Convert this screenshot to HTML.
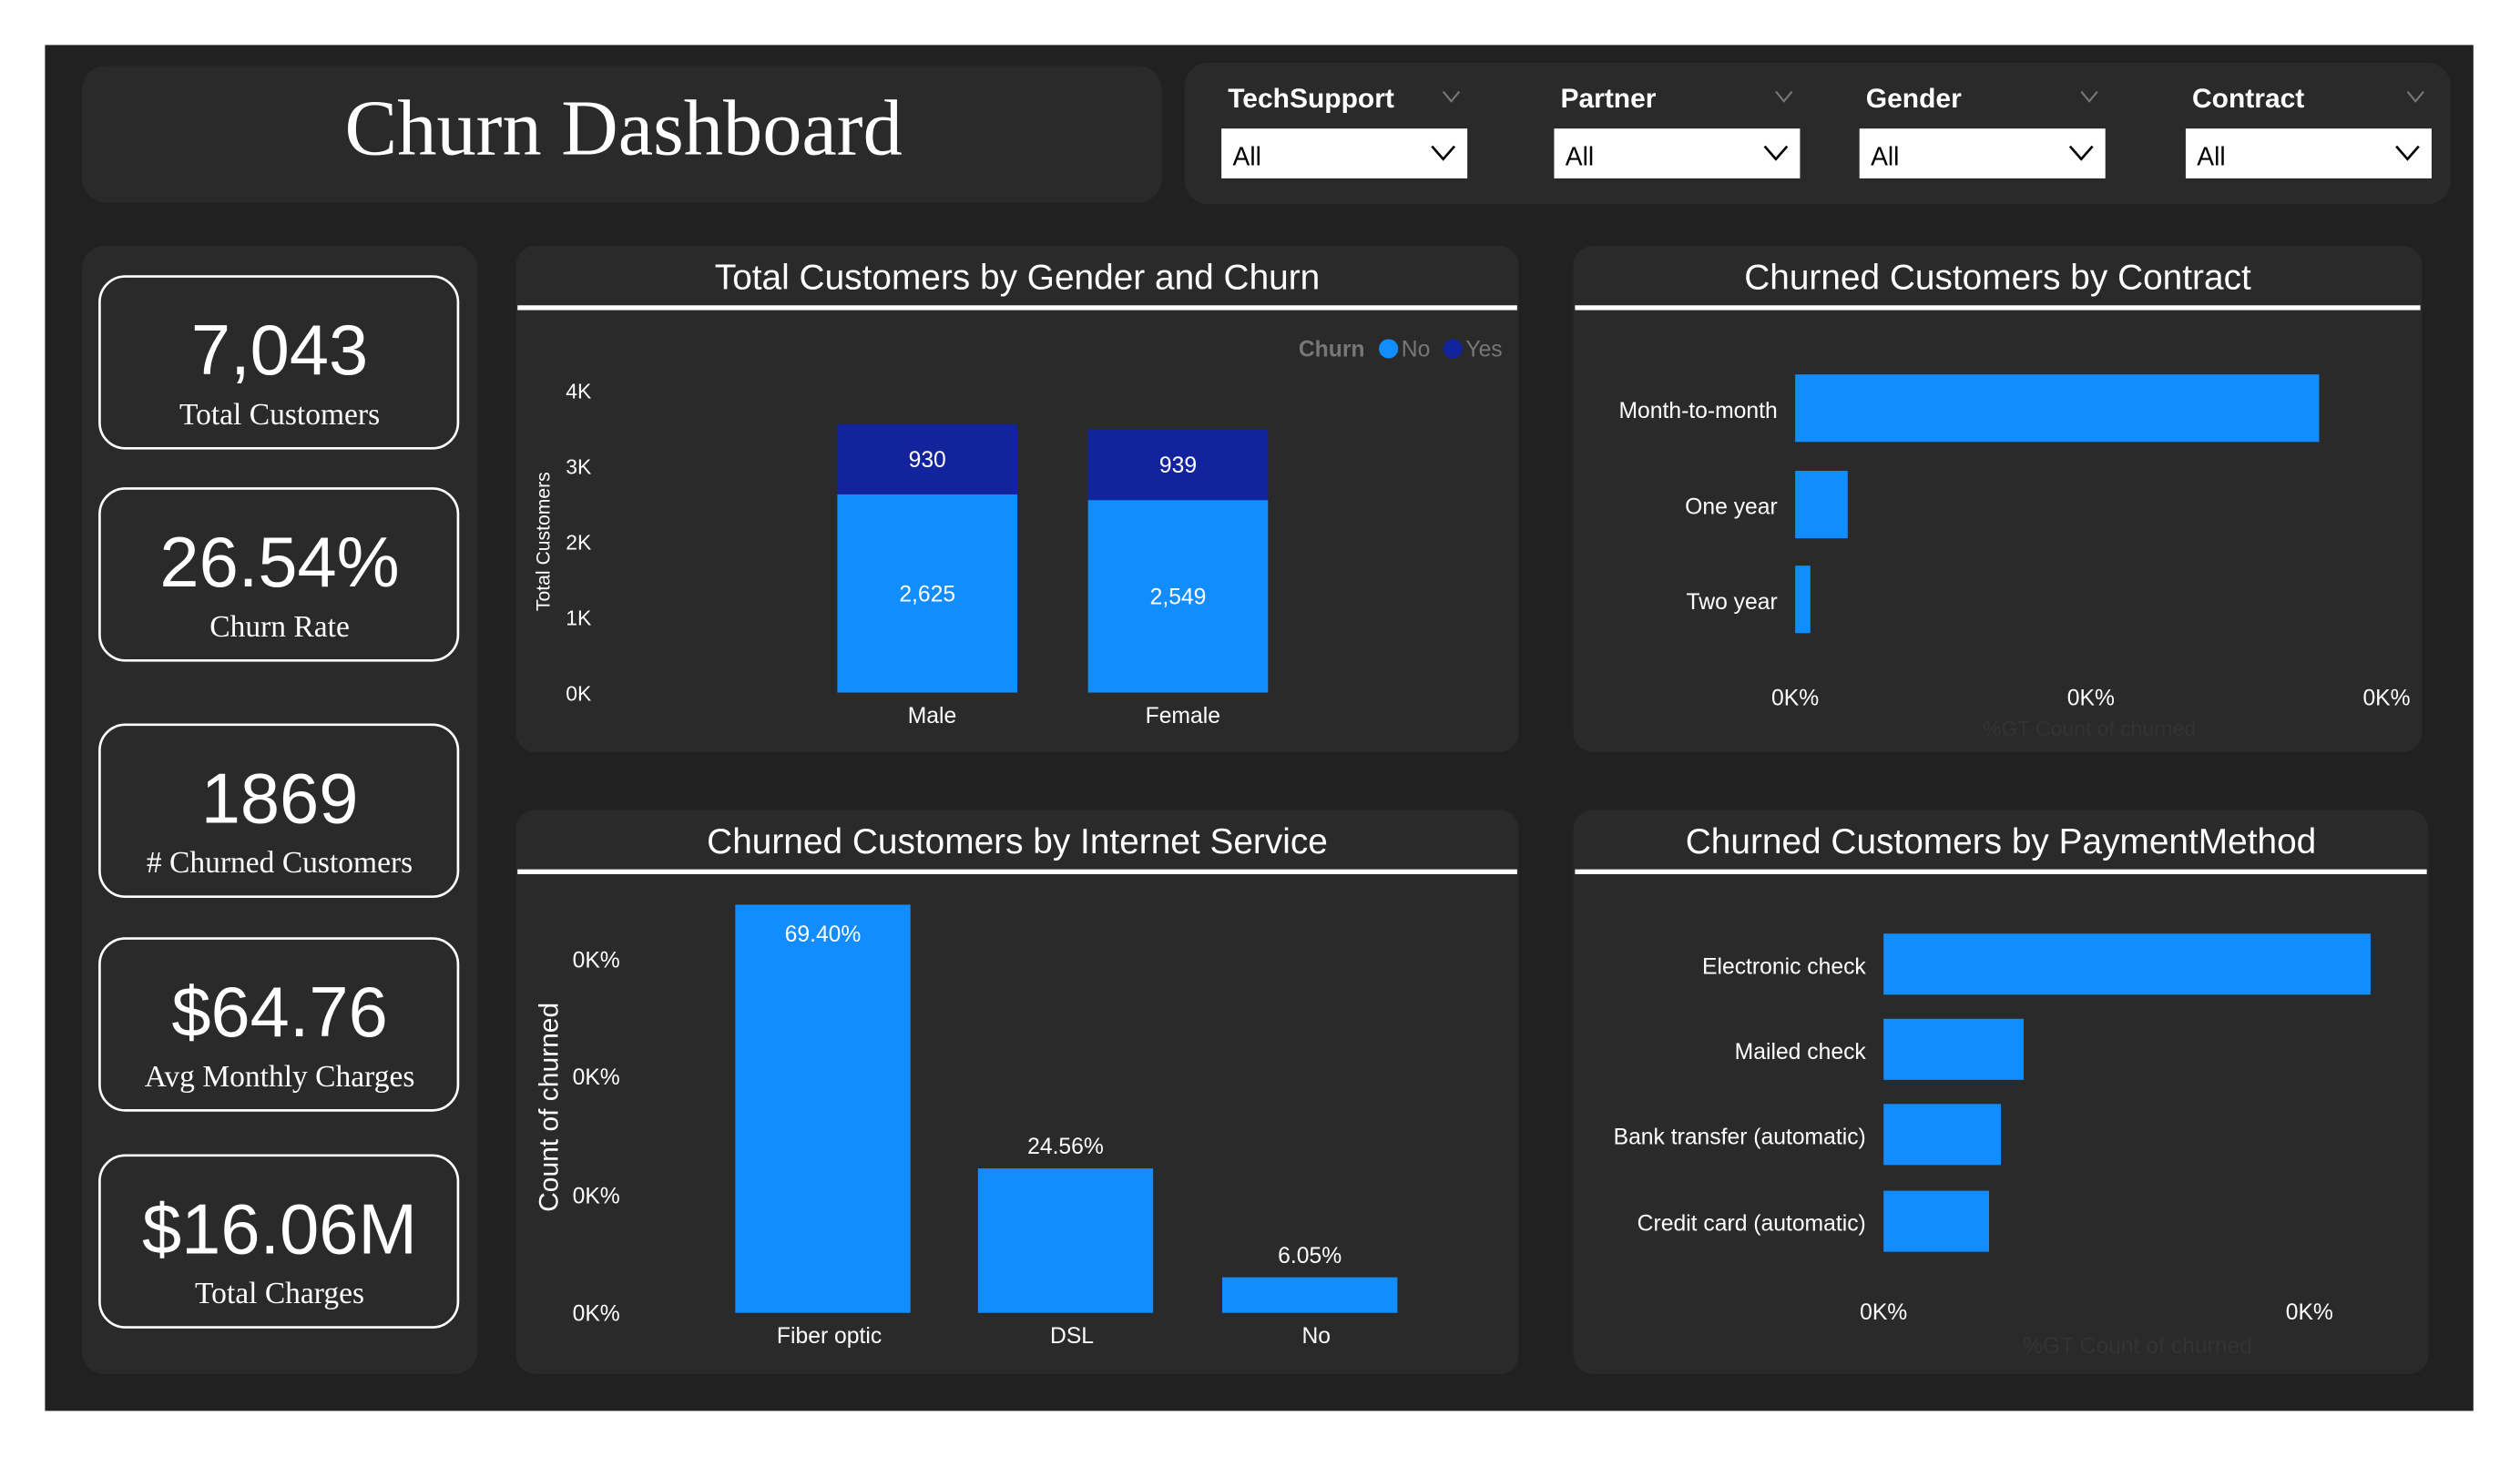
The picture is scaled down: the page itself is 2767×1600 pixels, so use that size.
<!DOCTYPE html>
<html><head><meta charset="utf-8"><style>
html,body{margin:0;padding:0;background:#fff;}
svg{display:block;}
text{font-family:"Liberation Sans",sans-serif;}
text.serif{font-family:"Liberation Serif",serif;}
</style></head><body>
<svg id="dash" width="2767" height="1600" viewBox="0 0 1568 906.7" preserveAspectRatio="none" xmlns="http://www.w3.org/2000/svg">
<rect x="0" y="0" width="1568" height="907" fill="#ffffff"/>
<rect x="28" y="28" width="1511" height="850" fill="#212121"/>
<g>
<rect x="51" y="41" width="672" height="85" rx="15" fill="#2a2a2a"/>
<text class="serif" x="388" y="96" font-size="49" fill="#fff" text-anchor="middle">Churn Dashboard</text>
</g>
<g>
<rect x="737" y="39" width="788" height="88" rx="15" fill="#2a2a2a"/>
</g>
<g id="filters"></g>
<g>
<rect x="51" y="153" width="246" height="702" rx="14" fill="#2a2a2a"/>
</g>
<g id="kpis"></g>
<g id="chart-gender"></g>
<g id="chart-contract"></g>
<g id="chart-internet"></g>
<g id="chart-payment"></g>
</svg>
<script>
const NS='http://www.w3.org/2000/svg';
function mk(parent,tag,attrs,txt){const e=document.createElementNS(NS,tag);for(const k in attrs)e.setAttribute(k,attrs[k]);if(txt!==undefined)e.textContent=txt;parent.appendChild(e);return e;}

// Data arrays
const filterLabels=['TechSupport','Partner','Gender','Contract'];
const kpiValues=['7,043','26.54%','1869','$64.76','$16.06M'];
const kpiLabels=['Total Customers','Churn Rate','# Churned Customers','Avg Monthly Charges','Total Charges'];
const genderCats=['Male','Female'];
const genderNo=[2625,2549];
const genderYes=[930,939];
const genderTicks=['0K','1K','2K','3K','4K'];
const contractCats=['Month-to-month','One year','Two year'];
const contractVals=[1655,166,48];
const contractTicks=['0K%','0K%','0K%'];
const internetCats=['Fiber optic','DSL','No'];
const internetVals=[69.40,24.56,6.05];
const internetTicks=['0K%','0K%','0K%','0K%'];
const paymentCats=['Electronic check','Mailed check','Bank transfer (automatic)','Credit card (automatic)'];
const paymentVals=[1071,308,258,232];
const paymentTicks=['0K%','0K%'];

// Filters
const fg=document.getElementById('filters');
const fx=[760,967,1157,1360];
filterLabels.forEach((l,i)=>{
  const g=mk(fg,'g',{});
  
  
  const x=fx[i];
  mk(g,'text',{x:x+4,y:67,'font-size':17,'font-weight':'bold',fill:'#fff'},l);
  mk(g,'path',{d:`M${x+138} ${57}l5 6l5 -6`,stroke:'#777',fill:'none','stroke-width':1.2});
  const b=mk(g,'rect',{x:x,y:80,width:153,height:31,fill:'#fff'});
  
  
  mk(g,'text',{x:x+7,y:103,'font-size':16,fill:'#000'},'All');
  mk(g,'path',{d:`M${x+131} ${91}l7 8l7 -8`,stroke:'#000',fill:'none','stroke-width':1.5});
});

// KPIs
const kg=document.getElementById('kpis');
const ky=[172,304,451,584,719];
kpiValues.forEach((v,i)=>{
  const g=mk(kg,'g',{});
  
  
  const y=ky[i];
  mk(g,'rect',{x:62,y:y,width:223,height:107,rx:16,fill:'#2a2a2a',stroke:'#fff','stroke-width':1.5});
  mk(g,'text',{x:174,y:y+61,'font-size':44,fill:'#fff','text-anchor':'middle'},v);
  mk(g,'text',{x:174,y:y+92,'font-size':19,fill:'#fff','text-anchor':'middle',class:'serif',style:'font-family:"Liberation Serif",serif'},kpiLabels[i]);
});

function panel(g,x,y,w,h,title,lineW){
  mk(g,'rect',{x:x,y:y,width:w,height:h,rx:12,fill:'#2a2a2a'});
  const t=mk(g,'text',{x:x+w/2,y:y+27,'font-size':22,fill:'#fff','text-anchor':'middle'},title);
  
  
  mk(g,'rect',{x:x+1,y:y+37,width:lineW,height:3,fill:'#fff'});
}

// Chart 1: gender stacked
(function(){
  const g=document.getElementById('chart-gender');
  
  
  panel(g,321,153,624,315,'Total Customers by Gender and Churn',622);
  const y0=431, yMax=4000, yTop=243;
  const ys=v=>y0-(v/yMax)*(y0-yTop);
  genderTicks.forEach((t,i)=>{mk(g,'text',{x:360,y:ys(i*1000)+5,'font-size':13,fill:'#fff','text-anchor':'middle'},t);});
  const at=mk(g,'text',{x:342,y:337,'font-size':12,fill:'#fff','text-anchor':'middle',transform:'rotate(-90 342 337)'},'Total Customers');
  
  
  const lg=mk(g,'g',{});
  
  
  mk(lg,'text',{x:808,y:222,'font-size':14,'font-weight':'bold',fill:'#777'},'Churn');
  mk(lg,'circle',{cx:864,cy:217,r:6,fill:'#118DFF'});
  mk(lg,'text',{x:872,y:222,'font-size':14,fill:'#777'},'No');
  mk(lg,'circle',{cx:904,cy:217,r:6,fill:'#12239E'});
  mk(lg,'text',{x:912,y:222,'font-size':14,fill:'#777'},'Yes');
  const cx=[577,733], bw=112;
  genderCats.forEach((c,i)=>{
    const x=cx[i]-bw/2;
    const no=mk(g,'rect',{x:x,y:ys(genderNo[i]),width:bw,height:y0-ys(genderNo[i]),fill:'#118DFF'});
    
    
    const top=genderNo[i]+genderYes[i];
    const ye=mk(g,'rect',{x:x,y:ys(top),width:bw,height:ys(genderNo[i])-ys(top),fill:'#12239E'});
    
    
    mk(g,'text',{x:cx[i],y:(ys(genderNo[i])+y0)/2+5,'font-size':14,fill:'#fff','text-anchor':'middle'},genderNo[i].toLocaleString('en-US'));
    mk(g,'text',{x:cx[i],y:(ys(top)+ys(genderNo[i]))/2+5,'font-size':14,fill:'#fff','text-anchor':'middle'},genderYes[i].toLocaleString('en-US'));
    mk(g,'text',{x:cx[i]+3,y:450,'font-size':14,fill:'#fff','text-anchor':'middle'},c);
  });
})();

// Chart 2: contract horizontal
(function(){
  const g=document.getElementById('chart-contract');
  
  
  panel(g,979,153,528,315,'Churned Customers by Contract',526);
  const x0=1117, xs=v=>x0+v/1655*326;
  const rowY=[254,314,373], bh=42;
  contractCats.forEach((c,i)=>{
    const b=mk(g,'rect',{x:x0,y:rowY[i]-bh/2,width:xs(contractVals[i])-x0,height:bh,fill:'#118DFF'});
    
    
    mk(g,'text',{x:1106,y:rowY[i]+6,'font-size':14,fill:'#fff','text-anchor':'end'},c);
  });
  const tx=[1117,1301,1485];
  contractTicks.forEach((t,i)=>{mk(g,'text',{x:tx[i],y:439,'font-size':14,fill:'#fff','text-anchor':'middle'},t);});
  mk(g,'text',{x:1300,y:458,'font-size':13,fill:'#333','text-anchor':'middle'},'%GT Count of churned');
})();

// Chart 3: internet vertical
(function(){
  const g=document.getElementById('chart-internet');
  
  
  panel(g,321,504,624,351,'Churned Customers by Internet Service',622);
  const y0=817, ys=v=>y0-v*3.66;
  const ty=[817,744,670,597];
  internetTicks.forEach((t,i)=>{mk(g,'text',{x:371,y:ty[i]+5,'font-size':14,fill:'#fff','text-anchor':'middle'},t);});
  const at=mk(g,'text',{x:347,y:689,'font-size':17,fill:'#fff','text-anchor':'middle',transform:'rotate(-90 347 689)'},'Count of churned');
  
  
  const cx=[512,663,815], bw=109;
  internetCats.forEach((c,i)=>{
    const b=mk(g,'rect',{x:cx[i]-bw/2,y:ys(internetVals[i]),width:bw,height:y0-ys(internetVals[i]),fill:'#118DFF'});
    
    
    const inside=internetVals[i]>50;
    mk(g,'text',{x:cx[i],y:inside?ys(internetVals[i])+23:ys(internetVals[i])-9,'font-size':14,fill:'#fff','text-anchor':'middle'},internetVals[i].toFixed(2)+'%');
    mk(g,'text',{x:cx[i]+4,y:836,'font-size':14,fill:'#fff','text-anchor':'middle'},c);
  });
})();

// Chart 4: payment horizontal
(function(){
  const g=document.getElementById('chart-payment');
  
  
  panel(g,979,504,532,351,'Churned Customers by PaymentMethod',530);
  const x0=1172, xs=v=>x0+v/1071*303;
  const rowY=[600,653,706,760], bh=38;
  paymentCats.forEach((c,i)=>{
    const b=mk(g,'rect',{x:x0,y:rowY[i]-bh/2,width:xs(paymentVals[i])-x0,height:bh,fill:'#118DFF'});
    
    
    mk(g,'text',{x:1161,y:rowY[i]+6,'font-size':14,fill:'#fff','text-anchor':'end'},c);
  });
  const tx=[1172,1437];
  paymentTicks.forEach((t,i)=>{mk(g,'text',{x:tx[i],y:821,'font-size':14,fill:'#fff','text-anchor':'middle'},t);});
  mk(g,'text',{x:1330,y:842,'font-size':14,fill:'#333','text-anchor':'middle'},'%GT Count of churned');
})();
</script>
</body></html>
